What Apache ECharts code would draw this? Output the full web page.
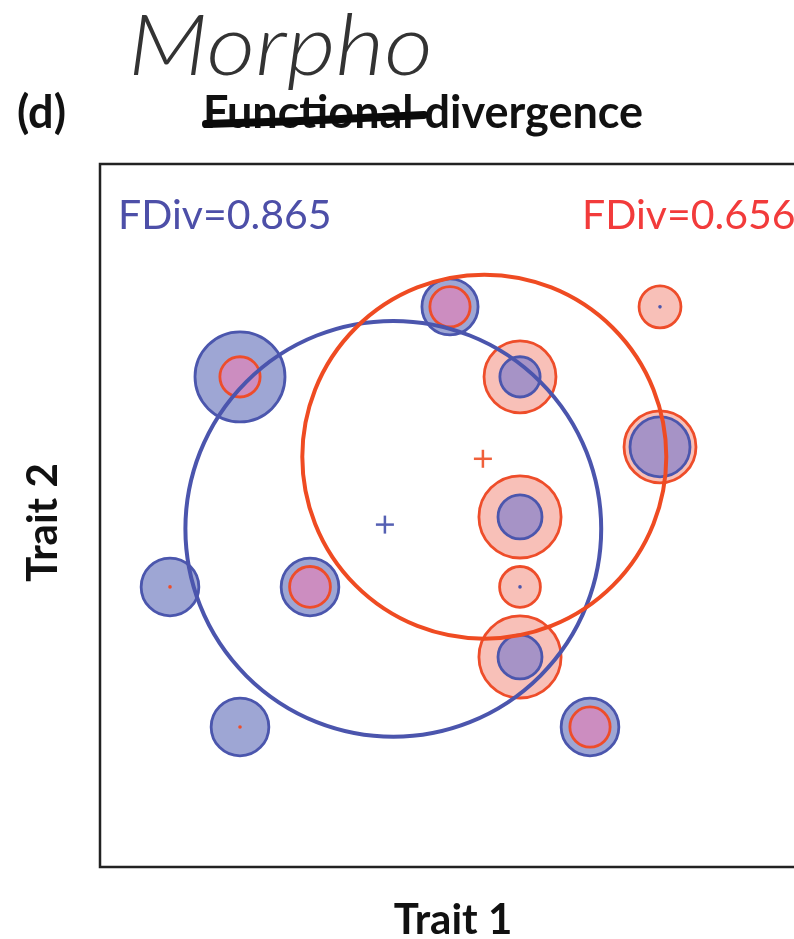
<!DOCTYPE html>
<html>
<head>
<meta charset="utf-8">
<script src="https://cdn.jsdelivr.net/npm/echarts@6/dist/echarts.min.js"></script>
<style>
html,body{margin:0;padding:0;background:#fff;}
#chart{width:794px;height:939px;}
</style>
</head>
<body>
<div id="chart"></div>
<script>
// ---- data (Trait units) ----
var trait1 = [2, 5, 6, 8, 8, 6, 6, 6, 7, 1, 2, 3];
var trait2 = [7, 8, 7, 6, 8, 5, 4, 3, 2, 4, 2, 4];
// relative abundances in the blue and red communities
var blueAbund = [9.0, 3.5, 1.8, 4.0, 0.01, 2.15, 0.01, 2.15, 3.7, 3.7, 3.7, 3.7];
var redAbund  = [1.8, 1.8, 5.75, 5.75, 1.95, 7.5, 1.85, 7.5, 1.8, 0.01, 0.01, 1.85];
// centroids (+) and mean-distance circles
var blueCentroid = [4.07, 4.89];
var redCentroid  = [5.47, 5.83];
var blueCircleCenter = [4.19, 4.83];
var redCircleCenter  = [5.49, 5.86];
var blueMeanDist = 2.97;
var redMeanDist  = 2.6;
var blueFDiv = 0.865;
var redFDiv  = 0.656;

var SIZE_K = 0.2143; // radius (trait units) per sqrt(abundance)
var C = {
  bStroke: '#4b56ad', bFill: '#9ea6d4',
  rStroke: '#ee4d2a', rFill: '#f8c0b8',
  rOnB: '#cc8dc0', bOnR: '#a693c6'
};

var speciesData = trait1.map(function (x, i) {
  return [x, trait2[i], blueAbund[i], redAbund[i]];
});

var chart = echarts.init(document.getElementById('chart'), null, {renderer: 'canvas'});

function circleEl(cx, cy, r, fill, stroke, lw) {
  return {
    type: 'circle',
    shape: {cx: cx, cy: cy, r: r},
    style: {fill: fill || 'none', stroke: stroke || 'none', lineWidth: lw || 0}
  };
}

var option = {
  animation: false,
  backgroundColor: '#fff',
  grid: {
    left: 100, top: 164, width: 721, height: 703,
    containLabel: false, outerBoundsMode: 'none',
    show: true, borderColor: '#222', borderWidth: 2.5, backgroundColor: 'transparent'
  },
  xAxis: {
    type: 'value', min: 0, max: 10.3,
    axisLine: {show: false}, axisTick: {show: false}, axisLabel: {show: false}, splitLine: {show: false},
    name: 'Trait 1', nameLocation: 'middle', nameGap: 32,
    nameTextStyle: {fontFamily: 'Lato', fontWeight: 'bold', fontSize: 42, color: '#111', padding: [0, 15, 0, 0]}
  },
  yAxis: {
    type: 'value', min: 0, max: 10.04,
    axisLine: {show: false}, axisTick: {show: false}, axisLabel: {show: false}, splitLine: {show: false},
    name: 'Trait 2', nameLocation: 'middle', nameGap: 36,
    nameTextStyle: {fontFamily: 'Lato', fontWeight: 'bold', fontSize: 42, color: '#111', padding: [0, 14, 0, 0]}
  },
  series: [
    {
      type: 'custom',
      name: 'species',
      data: speciesData,
      z: 2,
      renderItem: function (params, api) {
        var p = api.coord([api.value(0), api.value(1)]);
        var unit = api.size([1, 1])[0];
        var rb = SIZE_K * Math.sqrt(api.value(2)) * unit;
        var rr = SIZE_K * Math.sqrt(api.value(3)) * unit;
        var children = [];
        if (rb >= rr) {
          children.push(circleEl(p[0], p[1], rb, C.bFill, C.bStroke, 2.8));
          if (rr > 3) children.push(circleEl(p[0], p[1], rr, C.rOnB, C.rStroke, 2.8));
          else children.push(circleEl(p[0], p[1], 1.8, C.rStroke, null, 0));
        } else {
          children.push(circleEl(p[0], p[1], rr, C.rFill, C.rStroke, 2.8));
          if (rb > 3) children.push(circleEl(p[0], p[1], rb, C.bOnR, C.bStroke, 2.8));
          else children.push(circleEl(p[0], p[1], 1.8, C.bStroke, null, 0));
        }
        return {type: 'group', children: children};
      }
    },
    {
      type: 'custom',
      name: 'meanDist',
      z: 3,
      data: [
        [blueCircleCenter[0], blueCircleCenter[1], blueMeanDist, 0],
        [redCircleCenter[0], redCircleCenter[1], redMeanDist, 1]
      ],
      renderItem: function (params, api) {
        var p = api.coord([api.value(0), api.value(1)]);
        var r = api.size([api.value(2), api.value(2)])[0];
        var col = api.value(3) === 0 ? '#4b55ad' : '#ef4b22';
        return circleEl(p[0], p[1], r, 'none', col, 4);
      }
    },
    {
      type: 'custom',
      name: 'centroids',
      z: 4,
      data: [
        [blueCentroid[0], blueCentroid[1], 0],
        [redCentroid[0], redCentroid[1], 1]
      ],
      renderItem: function (params, api) {
        var p = api.coord([api.value(0), api.value(1)]);
        var col = api.value(2) === 0 ? '#5560b3' : '#f0603a';
        var a = 9;
        return {
          type: 'group',
          children: [
            {type: 'line', shape: {x1: p[0] - a, y1: p[1], x2: p[0] + a, y2: p[1]}, style: {stroke: col, lineWidth: 2.5}},
            {type: 'line', shape: {x1: p[0], y1: p[1] - a, x2: p[0], y2: p[1] + a}, style: {stroke: col, lineWidth: 2.5}}
          ]
        };
      }
    }
  ],
  graphic: [
    {type: 'text', x: 128, y: 6, scaleX: 1.13, originX: 0, originY: 0,
     style: {text: 'Morpho', fontFamily: 'Lato', fontStyle: 'italic', fontWeight: 300, fontSize: 84, fill: '#333', textVerticalAlign: 'top'}},
    {type: 'text', left: 17, top: 91, style: {text: '(d)', fontFamily: 'Lato', fontWeight: 'bold', fontSize: 45, fill: '#111'}},
    {type: 'text', left: 203, top: 91, style: {text: 'Functional divergence', fontFamily: 'Lato', fontWeight: 'bold', fontSize: 45, fill: '#111'}},
    {type: 'polyline', shape: {points: [[206, 124], [300, 121], [424, 115]]}, style: {stroke: '#0a0a0a', lineWidth: 8, lineCap: 'round', fill: 'none'}, z: 10},
    {type: 'text', left: 118, top: 195, style: {text: 'FDiv=' + blueFDiv.toFixed(3), fontFamily: 'Lato', fontSize: 41, fill: '#4d4fa8'}},
    {type: 'text', left: 582, top: 195, style: {text: 'FDiv=' + redFDiv.toFixed(3), fontFamily: 'Lato', fontSize: 41, fill: '#f23b3b'}}
  ]
};
chart.setOption(option);
</script>
</body>
</html>
